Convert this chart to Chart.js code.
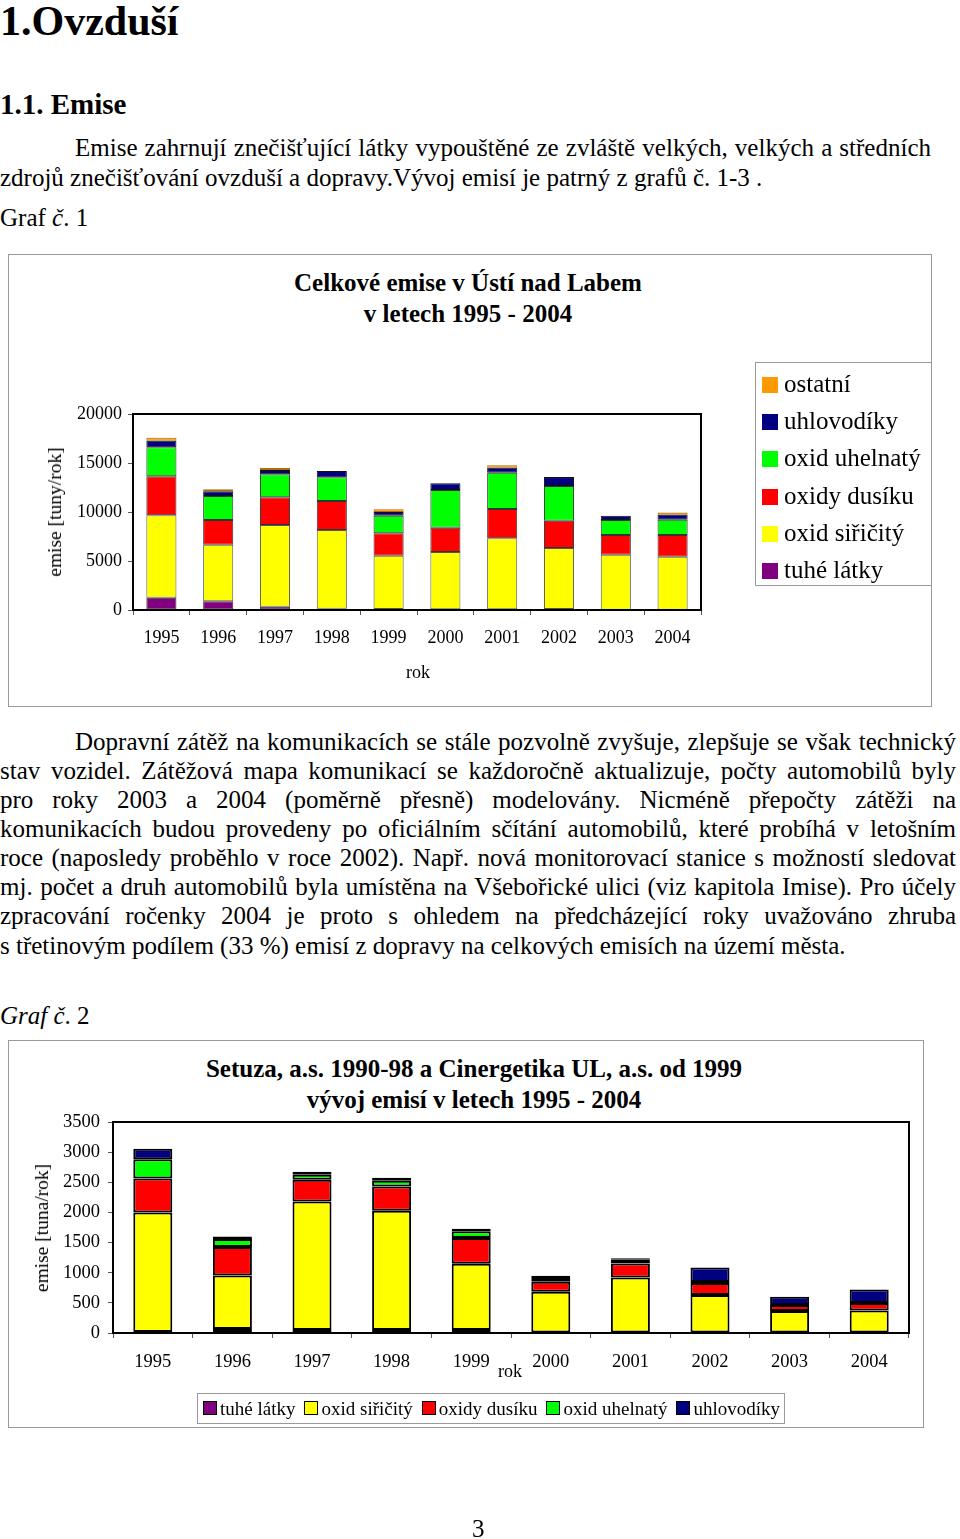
<!DOCTYPE html>
<html lang="cs">
<head>
<meta charset="utf-8">
<title>Ovzduší - emise</title>
<script src="https://cdn.jsdelivr.net/npm/chart.js@4.4.1/dist/chart.umd.min.js"></script>
<style>
  body { margin: 0; background: #fff; font-family: "Liberation Serif", "Times New Roman", serif; color: #000; }
  #page { position: relative; width: 960px; height: 1539px; overflow: hidden; }
  .t { position: absolute; white-space: nowrap; font-size: 25px; line-height: 29px; }
  .j { text-align: justify; text-align-last: justify; white-space: normal; }
  .h1 { font-weight: bold; font-size: 42px; line-height: 42px; }
  .h2 { font-weight: bold; font-size: 29px; line-height: 30px; }
  .frame { position: absolute; border: 1px solid #9a9a9a; box-sizing: border-box; }
  .ctitle { position: absolute; font-weight: bold; font-size: 25px; line-height: 31px; text-align: center; }
  .ylab { position: absolute; font-size: 19.5px; white-space: nowrap; transform: translate(-50%, -50%) rotate(-90deg); }
  .xlab { position: absolute; font-size: 18px; transform: translate(-50%, -50%); }
  canvas { position: absolute; }
  .leg1 { position: absolute; left: 755px; top: 362px; width: 177px; height: 224px; border: 1px solid #9a9a9a; box-sizing: border-box; }
  .leg1 .it { position: absolute; left: 6px; font-size: 25px; line-height: 26px; white-space: nowrap; }
  .leg1 .sq { display: inline-block; width: 16px; height: 16px; margin-right: 6px; vertical-align: -1px; }
  .leg2 { position: absolute; left: 197px; top: 1393px; width: 588px; height: 31px; border: 1px solid #9a9a9a; box-sizing: border-box; font-size: 19px; line-height: 29px; white-space: nowrap; padding-left: 5px; }
  .leg2 .sq { display: inline-block; width: 12px; height: 12px; border: 1px solid #000; margin-right: 3px; vertical-align: 0px; }
  .leg2 .it { margin-right: 9px; }
</style>
</head>
<body>
<div id="page">
  <div class="t h1" style="left:0;top:0">1.Ovzduší</div>
  <div class="t h2" style="left:0;top:89px">1.1. Emise</div>
  <div class="t j" style="left:75px;top:133px;width:856px">Emise zahrnují znečišťující látky vypouštěné ze zvláště velkých, velkých a středních</div>
  <div class="t" style="left:0;top:163px">zdrojů znečišťování ovzduší a dopravy.Vývoj emisí je patrný z grafů č. 1-3 .</div>
  <div class="t" style="left:0;top:203px">Graf <i>č</i>. 1</div>

  <div class="frame" style="left:8px;top:254px;width:924px;height:453px"></div>
  <div class="ctitle" style="left:8px;top:267px;width:924px;margin-left:-2px">Celkové emise v Ústí nad Labem<br>v letech 1995 - 2004</div>
  <canvas id="graf1" style="left:8px;top:254px"></canvas>
  <div class="ylab" style="left:55px;top:512px">emise [tuny/rok]</div>
  <div class="xlab" style="left:418px;top:672px">rok</div>
  <div class="leg1" id="leg1"></div>

  <div class="t j" style="left:75px;top:727px;width:881px">Dopravní zátěž na komunikacích se stále pozvolně zvyšuje, zlepšuje se však technický</div>
  <div class="t j" style="left:0;top:756px;width:956px">stav vozidel. Zátěžová mapa komunikací se každoročně aktualizuje, počty automobilů byly</div>
  <div class="t j" style="left:0;top:785px;width:956px">pro roky 2003 a 2004 (poměrně přesně) modelovány. Nicméně přepočty zátěži na</div>
  <div class="t j" style="left:0;top:814px;width:956px">komunikacích budou provedeny po oficiálním sčítání automobilů, které probíhá v letošním</div>
  <div class="t j" style="left:0;top:843px;width:956px">roce (naposledy proběhlo v roce 2002). Např. nová monitorovací stanice s možností sledovat</div>
  <div class="t j" style="left:0;top:872px;width:956px">mj. počet a druh automobilů byla umístěna na Všebořické ulici (viz kapitola Imise). Pro účely</div>
  <div class="t j" style="left:0;top:901px;width:956px">zpracování ročenky 2004 je proto s&nbsp;ohledem na předcházející roky uvažováno zhruba</div>
  <div class="t" style="left:0;top:931px">s třetinovým podílem (33 %) emisí z dopravy na celkových emisích na území města.</div>

  <div class="t" style="left:0;top:1001px"><i>Graf č</i>. 2</div>
  <div class="frame" style="left:8px;top:1040px;width:916px;height:388px"></div>
  <div class="ctitle" style="left:8px;top:1053px;width:916px;margin-left:8px">Setuza, a.s. 1990-98 a Cinergetika UL, a.s. od 1999<br>vývoj emisí v letech 1995 - 2004</div>
  <canvas id="graf2" style="left:8px;top:1040px"></canvas>
  <div class="ylab" style="left:42px;top:1228px">emise [tuna/rok]</div>
  <div class="xlab" style="left:510px;top:1371px">rok</div>
  <div class="leg2" id="leg2"></div>

  <div class="t" style="left:472px;top:1514px">3</div>
</div>

<script>
// spolecne
const roky = ['1995', '1996', '1997', '1998', '1999', '2000', '2001', '2002', '2003', '2004'];
const barvy = {
    tuhe: '#800080',
    so2: '#ffff00',
    nox: '#ff0000',
    co: '#00ff00',
    hc: '#000080',
    ostatni: '#ff9900'
};

// Graf 1 - celkove emise [t/rok]
const g1Tuhe = [1255, 890, 340, 130, 100, 70, 70, 100, 30, 30];
const g1So2 = [8405, 5775, 8335, 8030, 5440, 5850, 7245, 6220, 5610, 5410];
const g1Nox = [3980, 2520, 2825, 2960, 2285, 2480, 2990, 2785, 2010, 2215];
const g1Co = [2960, 2450, 2345, 2415, 1795, 3845, 3705, 3540, 1530, 1560];
const g1Hc = [675, 480, 440, 645, 380, 680, 510, 920, 440, 510];
const g1Ostatni = [306, 204, 204, 0, 275, 0, 245, 0, 0, 235];
const g1Ticks = [0, 5000, 10000, 15000, 20000];

// Graf 2 - Setuza / Cinergetika [t/rok]
const g2Tuhe = [15, 66, 50, 50, 50, 10, 10, 10, 10, 10];
const g2So2 = [1985, 889, 2133, 1979, 1100, 673, 912, 619, 353, 365];
const g2Nox = [564, 471, 360, 403, 426, 166, 232, 199, 100, 121];
const g2Co = [320, 133, 83, 95, 110, 45, 60, 20, 0, 0];
const g2Hc = [171, 43, 50, 50, 45, 55, 28, 239, 138, 227];
const g2Ticks = [0, 500, 1000, 1500, 2000, 2500, 3000, 3500];

const serif = '"Liberation Serif", "Times New Roman", serif';

// ramecek kolem plochy grafu
const ramecek = {
    id: 'ramecek',
    afterDraw(chart) {
        const a = chart.chartArea;
        const ctx = chart.ctx;
        ctx.save();
        ctx.strokeStyle = '#000';
        ctx.lineWidth = 2;
        ctx.strokeRect(a.left, a.top, a.right - a.left, a.bottom - a.top);
        ctx.restore();
    }
};

function sada(label, data, barva, okraj, sirka) {
    return {
        label: label,
        data: data,
        backgroundColor: barva,
        borderColor: okraj,
        borderWidth: sirka,
        borderSkipped: false
    };
}

function vytvorGraf(id, w, h, datasets, ticks, opt) {
    const cv = document.getElementById(id);
    cv.style.width = w + 'px';
    cv.style.height = h + 'px';
    cv.width = w;
    cv.height = h;
    return new Chart(cv, {
        type: 'bar',
        data: { labels: roky, datasets: datasets },
        options: {
            responsive: false,
            animation: false,
            layout: { padding: opt.padding },
            plugins: { legend: { display: false }, tooltip: { enabled: false } },
            datasets: { bar: { categoryPercentage: 1, barPercentage: opt.bar } },
            scales: {
                x: {
                    stacked: true,
                    grid: { display: true, drawOnChartArea: false, tickLength: 5, color: '#555', offset: true },
                    border: { color: '#555' },
                    ticks: { color: '#000', padding: opt.xPad, font: { family: serif, size: opt.font } },
                    afterFit: s => { s.height = opt.xH; }
                },
                y: {
                    stacked: true,
                    min: 0,
                    max: ticks[ticks.length - 1],
                    afterBuildTicks: s => { s.ticks = ticks.map(v => ({ value: v })); },
                    grid: { display: true, drawOnChartArea: false, tickLength: 5, color: '#555' },
                    border: { color: '#555' },
                    ticks: {
                        color: '#000',
                        padding: opt.yPad,
                        font: { family: serif, size: opt.font },
                        callback: v => String(v)
                    },
                    afterFit: s => { s.width = opt.yW; }
                }
            }
        },
        plugins: [ramecek]
    });
}

const ds1 = [
    sada('tuhé látky', g1Tuhe, barvy.tuhe, '#333', 1),
    sada('oxid siřičitý', g1So2, barvy.so2, '#555', 1),
    sada('oxidy dusíku', g1Nox, barvy.nox, '#333', 1),
    sada('oxid uhelnatý', g1Co, barvy.co, '#333', 1),
    sada('uhlovodíky', g1Hc, barvy.hc, '#111', 1),
    sada('ostatní', g1Ostatni, barvy.ostatni, '#b36b00', 1)
];
vytvorGraf('graf1', 923, 452, ds1, g1Ticks, {
    padding: { left: 0, top: 160, right: 230, bottom: 0 },
    yW: 125, xH: 96, bar: 0.53, font: 18, xPad: 12, yPad: 6
});

const ds2 = [
    sada('tuhé látky', g2Tuhe, barvy.tuhe, '#000', 2),
    sada('oxid siřičitý', g2So2, barvy.so2, '#000', 2),
    sada('oxidy dusíku', g2Nox, barvy.nox, '#000', 2),
    sada('oxid uhelnatý', g2Co, barvy.co, '#000', 2),
    sada('uhlovodíky', g2Hc, barvy.hc, '#000', 2)
];
vytvorGraf('graf2', 915, 387, ds2, g2Ticks, {
    padding: { left: 0, top: 82, right: 14, bottom: 0 },
    yW: 105, xH: 94, bar: 0.49, font: 18.5, xPad: 13, yPad: 8
});

// legendy z datovych sad
const leg1 = document.getElementById('leg1');
ds1.slice().reverse().forEach((d, i) => {
    const el = document.createElement('div');
    el.className = 'it';
    el.style.top = (8 + i * 37.2) + 'px';
    el.innerHTML = '<span class="sq" style="background:' + d.backgroundColor + '"></span>' + d.label;
    leg1.appendChild(el);
});
const leg2 = document.getElementById('leg2');
ds2.forEach(d => {
    const el = document.createElement('span');
    el.className = 'it';
    el.innerHTML = '<span class="sq" style="background:' + d.backgroundColor + '"></span>' + d.label;
    leg2.appendChild(el);
});
</script>
</body>
</html>
